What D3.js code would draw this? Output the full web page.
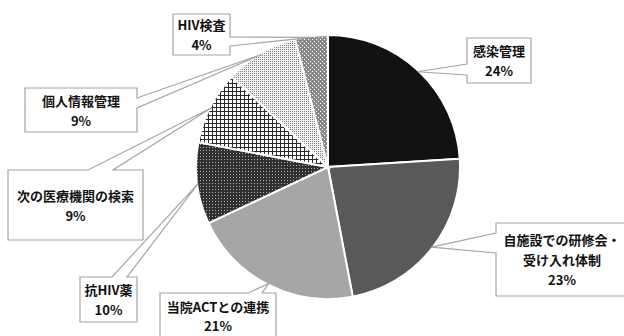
<!DOCTYPE html>
<html><head><meta charset="utf-8">
<script src="https://cdn.jsdelivr.net/npm/d3@7"></script>
<style>html,body{margin:0;padding:0;background:#fff;}svg{display:block;}</style>
</head><body>
<svg id="chart" width="624" height="336"></svg>
<script>
const categories = ["感染管理", "自施設での研修会・受け入れ体制", "当院ACTとの連携", "抗HIV薬", "次の医療機関の検索", "個人情報管理", "HIV検査"];
const values = [24, 23, 21, 10, 9, 9, 4];
const labelLines = [["感染管理"], ["自施設での研修会・", "受け入れ体制"], ["当院ACTとの連携"], ["抗HIV薬"], ["次の医療機関の検索"], ["個人情報管理"], ["HIV検査"]];
const pctLabels = ["24%", "23%", "21%", "10%", "9%", "9%", "4%"];

// layout of callout boxes (pixels)
const boxes = [
  {x:467, y:38, w:64, h:45, side:"left", a:64, b:75},
  {x:496, y:223, w:132, h:73, side:"left", a:233, b:253},
  {x:160, y:293, w:116, h:50, side:"top", a:248, b:262},
  {x:80, y:277, w:57, h:45, side:"top", a:112, b:127},
  {x:8, y:170, w:135, h:70, side:"top", a:88, b:113},
  {x:25, y:88, w:112, h:44, side:"right", a:98, b:108},
  {x:173, y:14, w:57, h:41, side:"right", a:37, b:46}
];

const svg = d3.select("#chart");
const defs = svg.append("defs");
const cx = 328, cy = 167, R = 132;

function pat(id, size, bg, dots) {
  const p = defs.append("pattern").attr("id", id).attr("patternUnits", "userSpaceOnUse")
    .attr("width", size).attr("height", size);
  p.append("rect").attr("width", size).attr("height", size).attr("fill", bg);
  dots.forEach(d => p.append("rect").attr("x", d[0]).attr("y", d[1]).attr("width", d[2]).attr("height", d[3]).attr("fill", d[4]));
}
pat("pDark", 3, "#303030", [[1,1,1,1,"#b0b0b0"]]);
pat("pGrid", 4, "#ffffff", [[0,0,4,1,"#2a2a2a"],[0,0,1,4,"#2a2a2a"]]);
pat("pFine", 2, "#f4f4f4", [[0,0,1,1,"#7a7a7a"]]);
pat("pDots", 4, "#8a8a8a", [[0,0,1,1,"#ffffff"],[2,2,1,1,"#ffffff"]]);

const fills = ["#111111", "#595959", "#a6a6a6", "url(#pDark)", "url(#pGrid)", "url(#pFine)", "url(#pDots)"];

const pie = d3.pie().sort(null).value(d => d);
const arcs = pie(values);
const arc = d3.arc().innerRadius(0).outerRadius(R);
const tipArc = d3.arc().innerRadius(R * 0.99).outerRadius(R * 0.99);

const g = svg.append("g").attr("transform", `translate(${cx},${cy})`);
g.selectAll("path.slice").data(arcs).join("path")
  .attr("class", "slice")
  .attr("d", arc)
  .attr("fill", (d, i) => fills[i])
  .attr("stroke", "#fff").attr("stroke-width", 2);

function calloutPath(b, tip) {
  const x0 = b.x, y0 = b.y, x1 = b.x + b.w, y1 = b.y + b.h;
  const pts = [];
  pts.push([x0, y0]);
  if (b.side === "top") { pts.push([b.a, y0], tip, [b.b, y0]); }
  pts.push([x1, y0]);
  if (b.side === "right") { pts.push([x1, b.a], tip, [x1, b.b]); }
  pts.push([x1, y1]);
  pts.push([x0, y1]);
  if (b.side === "left") { pts.push([x0, b.b], tip, [x0, b.a]); }
  return "M" + pts.map(p => p.join(",")).join("L") + "Z";
}

const lab = svg.append("g");
arcs.forEach((d, i) => {
  const c = tipArc.centroid(d);
  const tip = [cx + c[0], cy + c[1]];
  const b = boxes[i];
  lab.append("path").attr("d", calloutPath(b, tip))
    .attr("fill", "#fff").attr("stroke", "#a6a6a6").attr("stroke-width", 1.2);
  const lines = labelLines[i].concat([pctLabels[i]]);
  const lh = 20;
  const startY = (i === 2 ? b.y + 13 : b.y + b.h / 2 - (lines.length - 1) * lh / 2);
  lines.forEach((t, k) => {
    lab.append("text").attr("x", b.x + b.w / 2).attr("y", startY + k * (i === 2 ? 19.5 : lh))
      .attr("text-anchor", "middle").attr("dominant-baseline", "central")
      .attr("font-family", "'Noto Sans CJK JP', sans-serif")
      .attr("font-weight", "bold").attr("font-size", 13).attr("fill", "#111")
      .text(t);
  });
});
</script>
</body></html>
